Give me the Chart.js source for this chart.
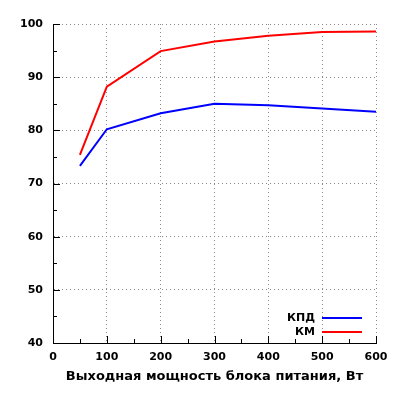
<!DOCTYPE html>
<html>
<head>
<meta charset="utf-8">
<script src="https://cdn.jsdelivr.net/npm/chart.js@4"></script>
<style>
  html, body { margin: 0; padding: 0; background: #fff; }
  #wrap { width: 400px; height: 400px; }
</style>
</head>
<body>
<div id="wrap"><canvas id="effChart" width="400" height="400"></canvas></div>
<script>
// values
const powerW = [50, 100, 200, 300, 400, 500, 600];
const kpdValues = [73.3, 80.2, 83.2, 85.0, 84.7, 84.1, 83.5];
const kmValues = [75.4, 88.2, 94.9, 96.7, 97.8, 98.5, 98.6];
const seriesLabels = ['КПД', 'КМ'];
const xTitle = 'Выходная мощность блока питания, Вт';

Chart.defaults.font.family = '"DejaVu Sans", sans-serif';
Chart.defaults.font.weight = 'bold';
Chart.defaults.color = '#000';

// gnuplot-like inward tick marks (major + minor)
const inwardTicks = {
    id: 'inwardTicks',
    afterDraw(chart) {
        const ctx = chart.ctx;
        const area = chart.chartArea;
        const xs = chart.scales.x, ys = chart.scales.y;
        ctx.save();
        ctx.strokeStyle = '#000';
        ctx.lineWidth = 1;
        ctx.beginPath();
        for (let v = xs.min; v <= xs.max; v += 50) {
            const px = Math.round(xs.getPixelForValue(v)) + 0.5;
            const len = v % 100 === 0 ? 7 : 4;
            ctx.moveTo(px, area.bottom);
            ctx.lineTo(px, area.bottom - len);
        }
        for (let v = ys.min; v <= ys.max; v += 5) {
            const py = Math.round(ys.getPixelForValue(v)) + 0.5;
            const len = v % 10 === 0 ? 7 : 4;
            ctx.moveTo(area.left, py);
            ctx.lineTo(area.left + len, py);
        }
        ctx.stroke();
        ctx.restore();
    }
};

// legend inside the plot, text left of the line sample
const innerLegend = {
    id: 'innerLegend',
    afterDraw(chart) {
        const ctx = chart.ctx;
        const area = chart.chartArea;
        ctx.save();
        ctx.font = 'bold 11px "DejaVu Sans"';
        ctx.textAlign = 'right';
        ctx.textBaseline = 'middle';
        chart.data.datasets.forEach((ds, i) => {
            const y = area.bottom - 25 + i * 14;
            ctx.fillStyle = '#000';
            ctx.fillText(ds.label, area.right - 61, y);
            ctx.strokeStyle = ds.borderColor;
            ctx.lineWidth = 2;
            ctx.beginPath();
            ctx.moveTo(area.right - 54, y);
            ctx.lineTo(area.right - 14, y);
            ctx.stroke();
        });
        ctx.restore();
    }
};

const ctx = document.getElementById('effChart').getContext('2d');
const effChart = new Chart(ctx, {
    type: 'line',
    data: {
        datasets: [{
            label: seriesLabels[0],
            data: powerW.map((p, i) => ({ x: p, y: kpdValues[i] })),
            borderColor: '#0000ff',
            borderWidth: 2,
            pointRadius: 0,
            tension: 0
        }, {
            label: seriesLabels[1],
            data: powerW.map((p, i) => ({ x: p, y: kmValues[i] })),
            borderColor: '#ff0000',
            borderWidth: 2,
            pointRadius: 0,
            tension: 0
        }]
    },
    options: {
        responsive: false,
        animation: false,
        layout: {
            padding: { top: 24, right: 24, left: 0, bottom: 16 }
        },
        scales: {
            x: {
                type: 'linear',
                min: 0,
                max: 600,
                ticks: { stepSize: 100, font: { size: 11, weight: 'bold' }, padding: 8, maxRotation: 0 },
                grid: { color: '#888', drawTicks: false },
                border: { display: true, color: '#000', width: 1, dash: [1, 3] },
                title: {
                    display: true,
                    text: xTitle,
                    font: { size: 13, weight: 'bold' },
                    padding: { top: 4, bottom: 0 }
                },
                afterFit: (scale) => { scale.height = 41; }
            },
            y: {
                min: 40,
                max: 100,
                ticks: { stepSize: 10, font: { size: 11, weight: 'bold' }, padding: 10 },
                grid: { color: '#888', drawTicks: false },
                border: { display: true, color: '#000', width: 1, dash: [1, 3] },
                afterFit: (scale) => { scale.width = 53; }
            }
        },
        plugins: {
            legend: { display: false }, // drawn by innerLegend
            tooltip: { enabled: false }
        }
    },
    plugins: [inwardTicks, innerLegend]
});
</script>
</body>
</html>
